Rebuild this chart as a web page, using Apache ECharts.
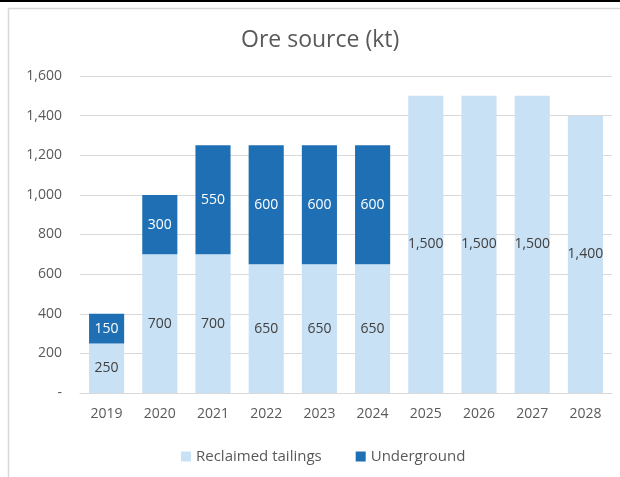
<!DOCTYPE html>
<html>
<head>
<meta charset="utf-8">
<script src="https://cdn.jsdelivr.net/npm/echarts@6/dist/echarts.min.js"></script>
<style>
  html, body { margin: 0; padding: 0; background: #ffffff; }
  #chart { width: 620px; height: 477px; }
</style>
</head>
<body>
<div id="chart"></div>
<script>
// data
var years = ['2019', '2020', '2021', '2022', '2023', '2024', '2025', '2026', '2027', '2028'];
var tailings = [250, 700, 700, 650, 650, 650, 1500, 1500, 1500, 1400];
var underground = [150, 300, 550, 600, 600, 600, null, null, null, null];
var yTicks = [0, 200, 400, 600, 800, 1000, 1200, 1400, 1600];

var fontFam = '"Open Sans", "DejaVu Sans", sans-serif';

function fmt(v) {
    if (v === 0) return '-';
    return v.toLocaleString('en-US');
}

var chart = echarts.init(document.getElementById('chart'), null, { renderer: 'canvas' });
chart.setOption({
    animation: false,
    backgroundColor: '#ffffff',
    title: {
        text: 'Ore source (kt)',
        left: 236,
        top: 24,
        textStyle: { color: '#595959', fontSize: 23, fontWeight: 'normal', fontFamily: fontFam }
    },
    graphic: [
        // outer frame of the chart (cropped on right/bottom)
        { type: 'rect', shape: { x: 8.5, y: 8.5, width: 700, height: 600 },
          style: { fill: 'none', stroke: '#d9d9d9', lineWidth: 1.5 }, silent: true },
        { type: 'line', shape: { x1: 0, y1: 1, x2: 620, y2: 1 },
          style: { stroke: '#000000', lineWidth: 2 }, silent: true }
    ],
    legend: {
        bottom: 8,
        left: 176,
        itemWidth: 10,
        itemHeight: 10,
        itemGap: 34,
        icon: 'rect',
        textStyle: { color: '#595959', fontSize: 15, fontFamily: fontFam },
        data: ['Reclaimed tailings', 'Underground']
    },
    grid: { left: 80, right: 8, top: 76, bottom: 84 },
    xAxis: {
        type: 'category',
        data: years,
        axisTick: { show: false },
        axisLine: { lineStyle: { color: '#d9d9d9', width: 1 } },
        axisLabel: { color: '#595959', fontSize: 14, fontFamily: fontFam, margin: 14 }
    },
    yAxis: {
        type: 'value',
        min: yTicks[0],
        max: yTicks[yTicks.length - 1],
        interval: 200,
        axisLine: { show: false },
        axisTick: { show: false },
        splitLine: { lineStyle: { color: '#d9d9d9', width: 1 } },
        axisLabel: { color: '#595959', fontSize: 14, fontFamily: fontFam, margin: 18, formatter: fmt }
    },
    series: [
        {
            name: 'Reclaimed tailings',
            type: 'bar',
            stack: 'ore',
            barWidth: '66%',
            data: tailings,
            itemStyle: { color: '#c9e1f5' },
            label: { show: true, position: 'inside', color: '#404040', fontSize: 14, fontFamily: fontFam,
                     formatter: function (p) { return fmt(p.value); } }
        },
        {
            name: 'Underground',
            type: 'bar',
            stack: 'ore',
            barWidth: '66%',
            data: underground,
            itemStyle: { color: '#1f6fb4' },
            label: { show: true, position: 'inside', color: '#ffffff', fontSize: 14, fontFamily: fontFam,
                     formatter: function (p) { return fmt(p.value); } }
        }
    ]
});
</script>
</body>
</html>
